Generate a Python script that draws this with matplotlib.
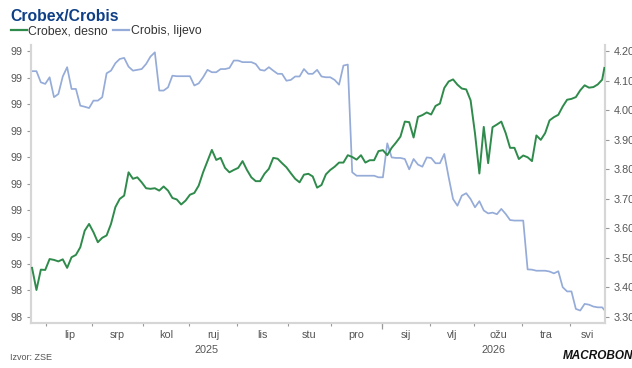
import numpy as np
import pandas as pd
import matplotlib
matplotlib.use("Agg")
import matplotlib.pyplot as plt

plt.rcParams['font.family'] = ['Liberation Sans', 'DejaVu Sans']

# business days covered by the chart, values read every second day (+ last day)
bdays = pd.bdate_range("2025-05-22", "2026-05-22")
sample_dates = bdays[::2].append(bdays[-1:])

crobex = [3.465, 3.39, 3.459, 3.458, 3.495, 3.492, 3.487, 3.494, 3.465, 3.501,
          3.509, 3.535, 3.591, 3.614, 3.586, 3.552, 3.567, 3.575, 3.614, 3.671,
          3.699, 3.710, 3.789, 3.767, 3.772, 3.755, 3.735, 3.733, 3.735, 3.727,
          3.741, 3.727, 3.702, 3.697, 3.680, 3.693, 3.713, 3.719, 3.744, 3.789,
          3.827, 3.865, 3.831, 3.838, 3.804, 3.789, 3.797, 3.804, 3.827, 3.797,
          3.772, 3.759, 3.759, 3.784, 3.801, 3.838, 3.835, 3.820, 3.806, 3.786,
          3.767, 3.755, 3.781, 3.784, 3.775, 3.737, 3.746, 3.782, 3.797, 3.808,
          3.822, 3.822, 3.847, 3.841, 3.832, 3.847, 3.822, 3.830, 3.830, 3.861,
          3.864, 3.847, 3.872, 3.890, 3.910, 3.961, 3.959, 3.907, 3.977, 3.983,
          3.992, 3.985, 4.014, 4.022, 4.075, 4.097, 4.104, 4.086, 4.073, 4.070,
          4.033, 3.921, 3.785, 3.943, 3.820, 3.942, 3.951, 3.961, 3.922, 3.872,
          3.872, 3.834, 3.846, 3.840, 3.827, 3.914, 3.899, 3.922, 3.965, 3.976,
          3.984, 4.012, 4.035, 4.038, 4.044, 4.067, 4.084, 4.076, 4.078, 4.087,
          4.103, 4.143]

crobis = [99.325, 99.325, 99.283, 99.277, 99.302, 99.227, 99.239, 99.305, 99.340, 99.258,
          99.258, 99.195, 99.191, 99.186, 99.214, 99.214, 99.227, 99.317, 99.327, 99.355,
          99.371, 99.375, 99.342, 99.327, 99.330, 99.333, 99.352, 99.380, 99.396, 99.252,
          99.252, 99.264, 99.308, 99.306, 99.306, 99.306, 99.306, 99.271, 99.279, 99.302,
          99.330, 99.321, 99.321, 99.333, 99.333, 99.337, 99.365, 99.365, 99.359, 99.359,
          99.359, 99.352, 99.330, 99.327, 99.340, 99.327, 99.315, 99.315, 99.289, 99.292,
          99.305, 99.305, 99.333, 99.315, 99.315, 99.330, 99.305, 99.302, 99.302, 99.292,
          99.274, 99.346, 99.350, 98.944, 98.931, 98.931, 98.931, 98.931, 98.931, 98.925,
          98.925, 99.053, 99.000, 98.998, 98.998, 98.994, 98.955, 98.994, 98.973, 98.965,
          99.000, 98.998, 98.978, 98.978, 99.013, 98.925, 98.843, 98.818, 98.856, 98.865,
          98.843, 98.812, 98.835, 98.800, 98.789, 98.792, 98.786, 98.806, 98.787, 98.764,
          98.762, 98.762, 98.762, 98.578, 98.577, 98.573, 98.573, 98.573, 98.570, 98.563,
          98.571, 98.511, 98.495, 98.495, 98.429, 98.423, 98.448, 98.445, 98.438, 98.435,
          98.435, 98.425]

month_labels = ['lip', 'srp', 'kol', 'ruj', 'lis', 'stu', 'pro', 'sij', 'vlj', 'ožu', 'tra', 'svi']
left_ticks = [98.4, 98.5, 98.6, 98.7, 98.8, 98.9, 99.0, 99.1, 99.2, 99.3, 99.4]
left_tick_labels = ['98', '98', '99', '99', '99', '99', '99', '99', '99', '99', '99']
right_ticks = [3.3, 3.4, 3.5, 3.6, 3.7, 3.8, 3.9, 4.0, 4.1, 4.2]

GREEN = '#2f8b4b'
BLUE = '#95abd8'
GREY = '#555555'

# x positions on a business day scale (like Macrobond)
xpos = bdays.get_indexer(sample_dates)
n = len(bdays)

fig = plt.figure(figsize=(6.32, 3.68), dpi=100)
ax = fig.add_axes([0.049, 0.123, 0.909, 0.755])
ax2 = ax.twinx()

ax.plot(xpos, crobis, color=BLUE, lw=1.25, zorder=2)
ax2.plot(xpos, crobex, color=GREEN, lw=1.4, zorder=3)

ax.set_xlim(-0.5, n - 0.5)
ax.set_ylim(98.377, 99.424)
ax2.set_ylim(3.279, 4.221)

ax.set_yticks(left_ticks)
ax.set_yticklabels(left_tick_labels)
ax2.set_yticks(right_ticks)
ax2.set_yticklabels(['%.2f' % t for t in right_ticks])

# month boundaries and centres
months = pd.Series(bdays.to_period('M'))
first_idx = months.index[months != months.shift()].tolist()
bounds = [i - 0.5 for i in first_idx] + [n - 0.5]
month_bounds = bounds[1:-1]
centres = [(bounds[i] + bounds[i + 1]) / 2 for i in range(1, len(bounds) - 1)]

ax.set_xticks(month_bounds)
ax.set_xticklabels([])
ax.set_xticks(centres, minor=True)
ax.set_xticklabels(month_labels, minor=True)
ax.tick_params(axis='x', which='major', length=2.5, width=0.8, color='#999999')
ax.tick_params(axis='x', which='minor', length=0, pad=5, labelsize=7.8, labelcolor=GREY)

# year tick + labels
jan = first_idx[months.iloc[first_idx].tolist().index(pd.Period('2026-01', 'M'))] - 0.5
sec = ax.secondary_xaxis('bottom')
sec.set_xticks([jan])
sec.set_xticklabels([])
sec.set_xticks([(-0.5 + jan) / 2, (jan + n - 0.5) / 2], minor=True)
sec.set_xticklabels(['2025', '2026'], minor=True)
sec.tick_params(which='major', length=4.5, width=0.9, color='#999999')
sec.tick_params(which='minor', length=0, pad=16, labelsize=7.8, labelcolor=GREY)
sec.spines['bottom'].set_visible(False)

ax.tick_params(axis='y', length=3, width=0.8, color='#999999', labelsize=7.8,
               labelcolor=GREY, pad=3)
ax2.tick_params(axis='y', length=3, width=0.8, color='#999999', labelsize=7.8,
                labelcolor=GREY, pad=3)

for a in (ax, ax2):
    a.spines['top'].set_visible(False)
    for s in ('left', 'right', 'bottom'):
        a.spines[s].set_color('#d6d6d6')
        a.spines[s].set_linewidth(1.5)

fig.text(0.016, 0.955, 'Crobex/Crobis', fontsize=11.3, fontweight='bold',
         color='#0e3f87', va='center')
handles = [plt.Line2D([], [], color=GREEN, lw=1.6), plt.Line2D([], [], color=BLUE, lw=1.6)]
fig.legend(handles, ['Crobex, desno', 'Crobis, lijevo'], loc='center left',
           bbox_to_anchor=(0.013, 0.915), ncol=2, frameon=False, fontsize=8.8,
           handlelength=1.3, handletextpad=0.15, columnspacing=0.4,
           labelcolor='#333333', borderaxespad=0, borderpad=0.2)

fig.text(0.016, 0.016, 'Izvor: ZSE', fontsize=6.5, color=GREY, va='bottom')
fig.text(0.891, 0.016, 'MACROBOND', fontsize=8.5, fontweight='bold', fontstyle='italic',
         color='#111111', va='bottom')

fig.savefig('out.png', dpi=100)
